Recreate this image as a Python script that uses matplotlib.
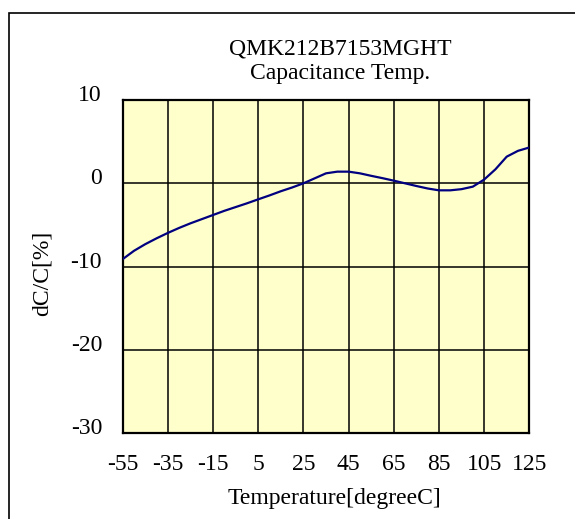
import matplotlib
matplotlib.use("Agg")
import matplotlib.pyplot as plt
import matplotlib.transforms as mtransforms
from matplotlib.patches import Rectangle

temps = [-55, -50, -45, -40, -35, -30, -25, -20, -15, -10, -5, 0, 5, 10, 15, 20,
         25, 30, 35, 40, 45, 50, 55, 60, 65, 70, 75, 80, 85, 90, 95, 100, 105,
         110, 115, 120, 125]
dcc = [-9.1, -8.1, -7.3, -6.6, -5.95, -5.35, -4.8, -4.3, -3.8, -3.3, -2.85, -2.4,
       -1.92, -1.45, -0.95, -0.5, 0.0, 0.6, 1.2, 1.4, 1.4, 1.2, 0.9, 0.62,
       0.32, 0.0, -0.32, -0.62, -0.84, -0.84, -0.7, -0.4, 0.45, 1.68, 3.2, 3.9, 4.3]

x_ticks = [-55, -35, -15, 5, 25, 45, 65, 85, 105, 125]
y_ticks = [-30, -20, -10, 0, 10]

plt.rcParams['font.family'] = ['Liberation Serif', 'DejaVu Serif']
plt.rcParams['axes.unicode_minus'] = False

W, H = 575, 519
fs = 17
fig = plt.figure(figsize=(W / 100, H / 100), dpi=100)
ax = fig.add_axes([122.7 / W, 1 - 433.3 / H, 406.6 / W, 333.3 / H])
ax.set_facecolor('#ffffcc')

ax.plot(temps, dcc, color='#000080', lw=1.6, zorder=3, solid_joinstyle='round')

ax.set_xlim(-55, 125)
ax.set_ylim(-30, 10)
ax.set_xticks(x_ticks)
ax.set_yticks(y_ticks)
ax.grid(True, color='black', lw=1.1)
ax.tick_params(length=0, labelsize=fs)
ax.tick_params(axis='x', pad=15)
ax.tick_params(axis='y', pad=14.9)
for s in ax.spines.values():
    s.set_linewidth(1.6)

# y tick labels sit slightly above their grid lines in the reference
shift = mtransforms.ScaledTranslation(0, 0.07, fig.dpi_scale_trans)
for lbl in ax.get_yticklabels():
    lbl.set_transform(lbl.get_transform() + shift)

ax.set_xlabel('Temperature[degreeC]', fontsize=fs)
ax.xaxis.label.set_va('baseline')
ax.xaxis.set_label_coords((334 - 122.7) / 406.6, (433.3 - 504) / 333.3)
ax.set_ylabel('dC/C[%]', fontsize=fs)
ax.yaxis.label.set_va('center')
ax.yaxis.set_label_coords((42.5 - 122.7) / 406.6, (433.3 - 273) / 333.3)

fig.text(340 / W, 1 - 55 / H, 'QMK212B7153MGHT', ha='center', va='baseline', fontsize=fs)
fig.text(340 / W, 1 - 79 / H, 'Capacitance Temp.', ha='center', va='baseline', fontsize=fs)

# outer frame (only left and top edges fall inside the image)
fig.add_artist(Rectangle((9 / W, -0.1), 1.2, 1.1 - 13 / H, transform=fig.transFigure,
                         fill=False, edgecolor='black', lw=1.2))

fig.savefig('out.png', dpi=100)
